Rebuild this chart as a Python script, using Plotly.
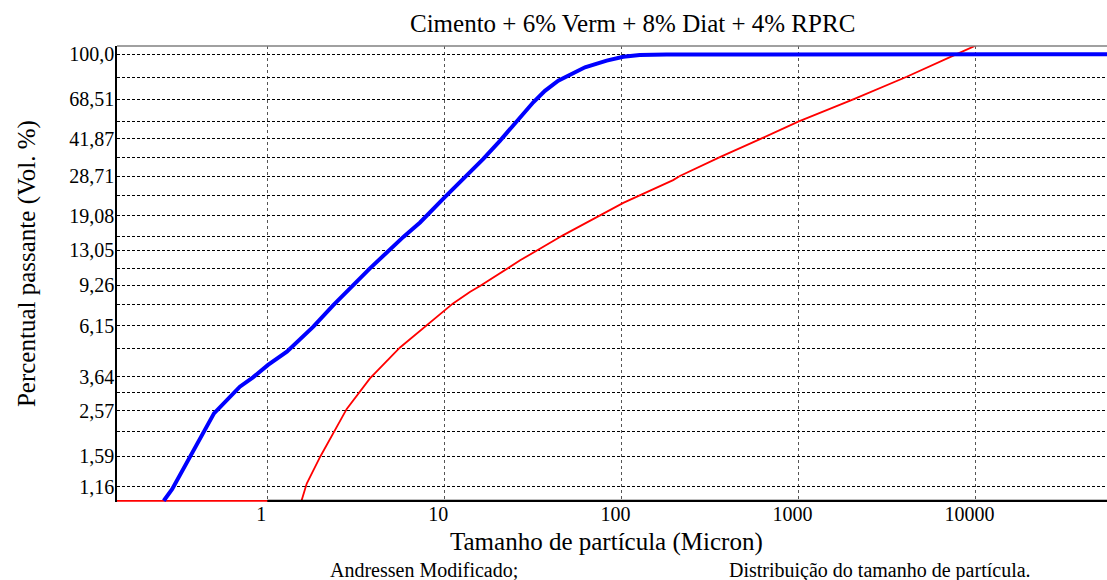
import numpy as np
import plotly.graph_objects as go

W, H = 1107, 580

# Measured cumulative distribution: particle size (micron) vs passing (vol. %)
blue_size = [0.26, 0.29, 0.50, 0.70, 0.83, 1.01, 1.29, 1.82, 2.36, 3.80, 5.87, 7.29,
             10.0, 13.1, 16.6, 20.6, 25.6, 31.8, 37.0, 44.0, 62.3, 82.6, 102.5, 127.0,
             180.0, 60000.0]
blue_pct = [1.00, 1.13, 2.50, 3.29, 3.62, 4.11, 4.71, 6.09, 7.57, 10.9, 15.1, 17.7,
            23.0, 28.4, 34.2, 41.0, 52.4, 66.0, 73.6, 80.1, 89.7, 94.8, 98.0, 99.4,
            99.8, 100.0]

# Modified Andreasen model curve
red_size = [0.14, 1.56, 1.67, 1.99, 2.81, 3.80, 5.62, 7.95, 11.2, 14.0, 15.9, 26.8,
            47.0, 102.5, 196.0, 214.0, 360.0, 607.0, 998.0, 2040.0, 4090.0, 7830.0,
            13750.0]
red_pct = [1.0, 1.0, 1.20, 1.58, 2.62, 3.58, 4.92, 6.17, 7.70, 8.66, 9.17, 11.8,
           15.4, 21.8, 27.6, 28.8, 34.8, 41.7, 51.8, 68.5, 82.8, 100.1, 118.0]

# X axis ticks
x_ticks = [1, 10, 100, 1000, 10000]
x_tick_text = ["1", "10", "100", "1000", "10000"]

# Y axis: labelled passing values
y_tick_pct = [1.16, 1.59, 2.57, 3.64, 6.15, 9.26, 13.05, 19.08, 28.71, 41.87, 68.51, 100.0]
y_tick_text = ["1,16", "1,59", "2,57", "3,64", "6,15", "9,26", "13,05", "19,08",
               "28,71", "41,87", "68,51", "100,0"]

# Non-linear passing scale: axis position of each scale mark (floor at 1 %)
scale_pct = [1.0] + y_tick_pct
scale_pos = [0.0, 14.0, 44.7, 90.0, 124.0, 175.0, 215.7, 250.7, 285.0, 324.4,
             362.0, 401.4, 446.4]
minor_grid_pos = [69.4, 108.4, 152.0, 196.7, 232.0, 264.0, 305.7, 343.4, 379.0, 423.4]
y_bottom, y_top = -1.2, 454.7

x_lo, x_hi = -0.849, 4.743  # log10 range of the size axis


def to_axis(pct):
    """Map passing percentages onto the non-linear vertical scale."""
    lp = np.log10(np.asarray(pct, dtype=float))
    ls = np.log10(scale_pct)
    out = np.interp(lp, ls, scale_pos)
    slope = (scale_pos[-1] - scale_pos[-2]) / (ls[-1] - ls[-2])
    hi = lp > ls[-1]
    out[hi] = scale_pos[-1] + (lp[hi] - ls[-1]) * slope
    return out


fig = go.Figure()
fig.add_trace(go.Scatter(x=red_size, y=to_axis(red_pct), mode="lines",
                         line=dict(color="#ff0000", width=1.8), showlegend=False,
                         name="Andressen Modificado"))
fig.add_trace(go.Scatter(x=blue_size, y=to_axis(blue_pct), mode="lines",
                         line=dict(color="#0000ff", width=4), showlegend=False,
                         name="Distribuição"))

tick_pos = list(to_axis(y_tick_pct)) + minor_grid_pos
tick_txt = y_tick_text + [""] * len(minor_grid_pos)

serif = "Liberation Serif, Times New Roman, serif"

fig.update_layout(
    width=W, height=H,
    margin=dict(l=117, r=0, t=46, b=H - 46 - (y_top - y_bottom)),
    paper_bgcolor="white", plot_bgcolor="white",
    font=dict(family=serif, color="black", size=20),
    xaxis=dict(type="log", range=[x_lo, x_hi], tickvals=x_ticks, ticktext=x_tick_text,
               showgrid=True, gridcolor="#555555", griddash="dot", gridwidth=1,
               showline=False, zeroline=False, ticks="", ticklabelshift=-6,
               ticklabelstandoff=-2,
               tickfont=dict(family=serif, size=20, color="black")),
    yaxis=dict(range=[y_bottom, y_top], tickvals=tick_pos, ticktext=tick_txt,
               showgrid=True, gridcolor="black", griddash="3px,2px", gridwidth=1,
               showline=True, linecolor="black", linewidth=1.5, zeroline=False,
               ticks="", ticklabelstandoff=-3,
               tickfont=dict(family=serif, size=20, color="black")),
)

# Frame: grey top edge, black size axis from 1 micron onwards
fig.add_shape(type="line", xref="paper", yref="paper", x0=0, x1=1, y0=1, y1=1,
              line=dict(color="#808080", width=1.5), layer="above")
fig.add_shape(type="line", xref="x", yref="y", x0=x_ticks[0], x1=10 ** x_hi,
              y0=0, y1=0, line=dict(color="black", width=2.2), layer="above")

L, T, B = 117, 46, 500.7


def px_x(px):
    return (px - L) / (W - L)


def px_y(py):
    return (T + (y_top - y_bottom) - py) / (y_top - y_bottom)


texts = [
    ("Cimento + 6% Verm + 8% Diat + 4% RPRC", 632, 24, 25, 0),
    ("Tamanho de partícula (Micron)", 606.5, 542, 25, 0),
    ("Percentual passante (Vol. %)", 27, 264, 25, -90),
    ("Andressen Modificado;", 424, 570, 20, 0),
    ("Distribuição do tamanho de partícula.", 880, 570, 20, 0),
]
for txt, cx, cy, size, ang in texts:
    fig.add_annotation(text=txt, xref="paper", yref="paper", x=px_x(cx), y=px_y(cy),
                       xanchor="center", yanchor="middle", showarrow=False,
                       textangle=ang, font=dict(family=serif, size=size, color="black"))

fig.write_html("out.html")
